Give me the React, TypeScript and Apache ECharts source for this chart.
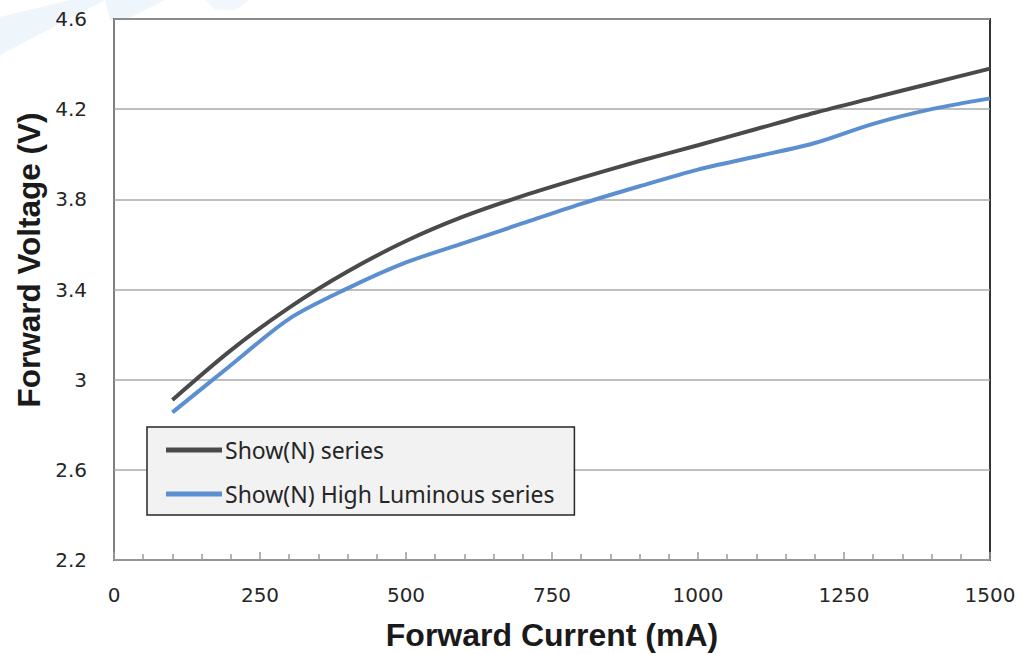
import React, { useEffect, useRef } from "react";
import * as echarts from "echarts";

const currents = [100, 200, 300, 400, 500, 600, 700, 800, 900, 1000, 1100, 1200, 1300, 1400, 1500];
const showSeries = [2.91, 3.13, 3.32, 3.48, 3.615, 3.725, 3.815, 3.895, 3.97, 4.04, 4.112, 4.184, 4.25, 4.315, 4.38];
const highLumSeries = [2.855, 3.064, 3.27, 3.405, 3.52, 3.607, 3.694, 3.78, 3.858, 3.932, 3.99, 4.05, 4.135, 4.2, 4.248];
const seriesNames = ["Show(N) series", "Show(N) High Luminous series"];
const xTitle = "Forward Current (mA)";
const yTitle = "Forward Voltage (V)";

export default function App() {
  const ref = useRef<HTMLDivElement>(null);
  useEffect(() => {
    if (!ref.current) return;
    const chart = echarts.init(ref.current, undefined, { renderer: "svg" });
    const pairs = (ys: number[]) => currents.map((c, i) => [c, ys[i]]);
    chart.setOption({
      animation: false,
      backgroundColor: "#ffffff",
      graphic: [
        { type: "polygon", silent: true, z: -10, shape: { points: [[0, 17], [70, 0], [105, 0], [0, 55]] }, style: { fill: "#eef5fb" } },
        { type: "polygon", silent: true, z: -10, shape: { points: [[105, 0], [165, 0], [125, 20], [110, 20]] }, style: { fill: "#eef5fb" } },
        { type: "polygon", silent: true, z: -10, shape: { points: [[205, 0], [250, 0], [235, 10], [215, 10]] }, style: { fill: "#f1f7fc" } },
        {
          type: "text",
          x: 29,
          y: 260,
          rotation: Math.PI / 2,
          style: {
            text: yTitle,
            fontFamily: "Liberation Sans, Arial, sans-serif",
            fontWeight: "bold",
            fontSize: 31.5,
            fill: "#1a1a1a",
            align: "center",
            verticalAlign: "middle",
          },
        },
      ],
      grid: {
        left: 114,
        right: 33,
        top: 19,
        bottom: 94,
        show: true,
        backgroundColor: "#ffffff",
        borderColor: "#333333",
        borderWidth: 2,
        outerBoundsMode: "none",
        containLabel: false,
      },
      legend: {
        orient: "vertical",
        left: 147,
        top: 427,
        icon: "rect",
        itemWidth: 56,
        itemHeight: 5,
        itemGap: 20,
        padding: [11, 20, 9, 19],
        backgroundColor: "#f2f2f2",
        borderColor: "#262626",
        borderWidth: 1.5,
        borderRadius: 0,
        data: seriesNames,
        textStyle: {
          fontFamily: "Noto Sans, sans-serif",
          fontSize: 23,
          lineHeight: 24,
          color: "#262626",
          padding: [0, 0, 0, -2],
        },
      },
      xAxis: {
        type: "value",
        min: 0,
        max: 1500,
        interval: 250,
        name: xTitle,
        nameLocation: "middle",
        nameGap: 59,
        nameTextStyle: {
          fontFamily: "Liberation Sans, Arial, sans-serif",
          fontWeight: "bold",
          fontSize: 32,
          color: "#1a1a1a",
        },
        axisLine: { show: true, lineStyle: { color: "#9a9a9a", width: 1.5 } },
        axisTick: { show: true, inside: true, length: 8, lineStyle: { color: "#9a9a9a", width: 1.5 } },
        minorTick: { show: true, splitNumber: 5, length: 6, lineStyle: { color: "#9a9a9a", width: 1.5 } },
        splitLine: { show: false },
        axisLabel: {
          margin: 25,
          fontFamily: "DejaVu Sans, sans-serif",
          fontSize: 20,
          color: "#262626",
          formatter: (v: number) => String(v),
        },
      },
      yAxis: {
        type: "value",
        min: 2.2,
        max: 4.6,
        interval: 0.4,
        axisLine: { show: true, lineStyle: { color: "#9a9a9a", width: 1.5 } },
        axisTick: { show: false },
        splitLine: { show: true, lineStyle: { color: "#aaaaaa", width: 1.5 } },
        axisLabel: {
          margin: 27,
          fontFamily: "DejaVu Sans, sans-serif",
          fontSize: 20,
          color: "#262626",
          showMaxLabel: true,
          showMinLabel: true,
        },
      },
      series: [
        {
          name: seriesNames[0],
          type: "line",
          smooth: 0.3,
          symbol: "none",
          data: pairs(showSeries),
          lineStyle: { color: "#4a4a4a", width: 4 },
          itemStyle: { color: "#4a4a4a" },
          z: 3,
        },
        {
          name: seriesNames[1],
          type: "line",
          smooth: 0.3,
          symbol: "none",
          data: pairs(highLumSeries),
          lineStyle: { color: "#5b8fd0", width: 4 },
          itemStyle: { color: "#5b8fd0" },
          z: 2,
        },
      ],
    });
    return () => chart.dispose();
  }, []);
  return <div ref={ref} style={{ position: "fixed", left: 0, top: 0, width: 1023, height: 654 }} />;
}
